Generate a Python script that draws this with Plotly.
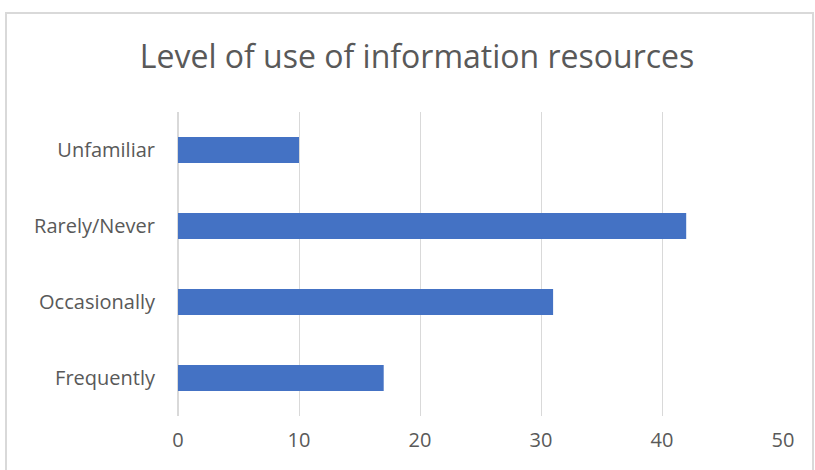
import plotly.graph_objects as go

categories = ["Frequently", "Occasionally", "Rarely/Never", "Unfamiliar"]
values = [17, 31, 42, 10]
x_ticks = [0, 10, 20, 30, 40, 50]
title_text = "Level of use of information resources"

FONT = "Open Sans, sans-serif"
GRAY = "#595959"

fig = go.Figure(go.Bar(
    y=categories, x=values, orientation="h",
    marker=dict(color="#4472C4", line=dict(width=0)),
    width=0.34,
))

fig.update_layout(
    width=815, height=470,
    margin=dict(l=178, r=32, t=112, b=54),
    paper_bgcolor="white", plot_bgcolor="white",
    showlegend=False,
    title=dict(text=title_text, x=417/815, xref="container", xanchor="center",
               y=1-57/470, yref="container", yanchor="middle",
               font=dict(family=FONT, size=32, color=GRAY)),
    xaxis=dict(range=[0, 50], tickvals=x_ticks, showgrid=True, gridcolor="#d9d9d9",
               gridwidth=1, zeroline=True, zerolinecolor="#d9d9d9", showline=False,
               ticks="", ticklabelstandoff=10,
               tickfont=dict(family=FONT, size=20, color=GRAY)),
    yaxis=dict(categoryorder="array", categoryarray=categories, showgrid=False,
               showline=False, zeroline=False, ticks="", ticklabelstandoff=22,
               tickfont=dict(family=FONT, size=20, color=GRAY)),
    shapes=[dict(type="rect", xref="paper", yref="paper",
                 x0=(6-178)/605, x1=(813-178)/605,
                 y0=(416-480)/304, y1=(416-13)/304,
                 line=dict(color="#d9d9d9", width=2), fillcolor="rgba(0,0,0,0)",
                 layer="below")],
)

fig.write_html("out.html")
